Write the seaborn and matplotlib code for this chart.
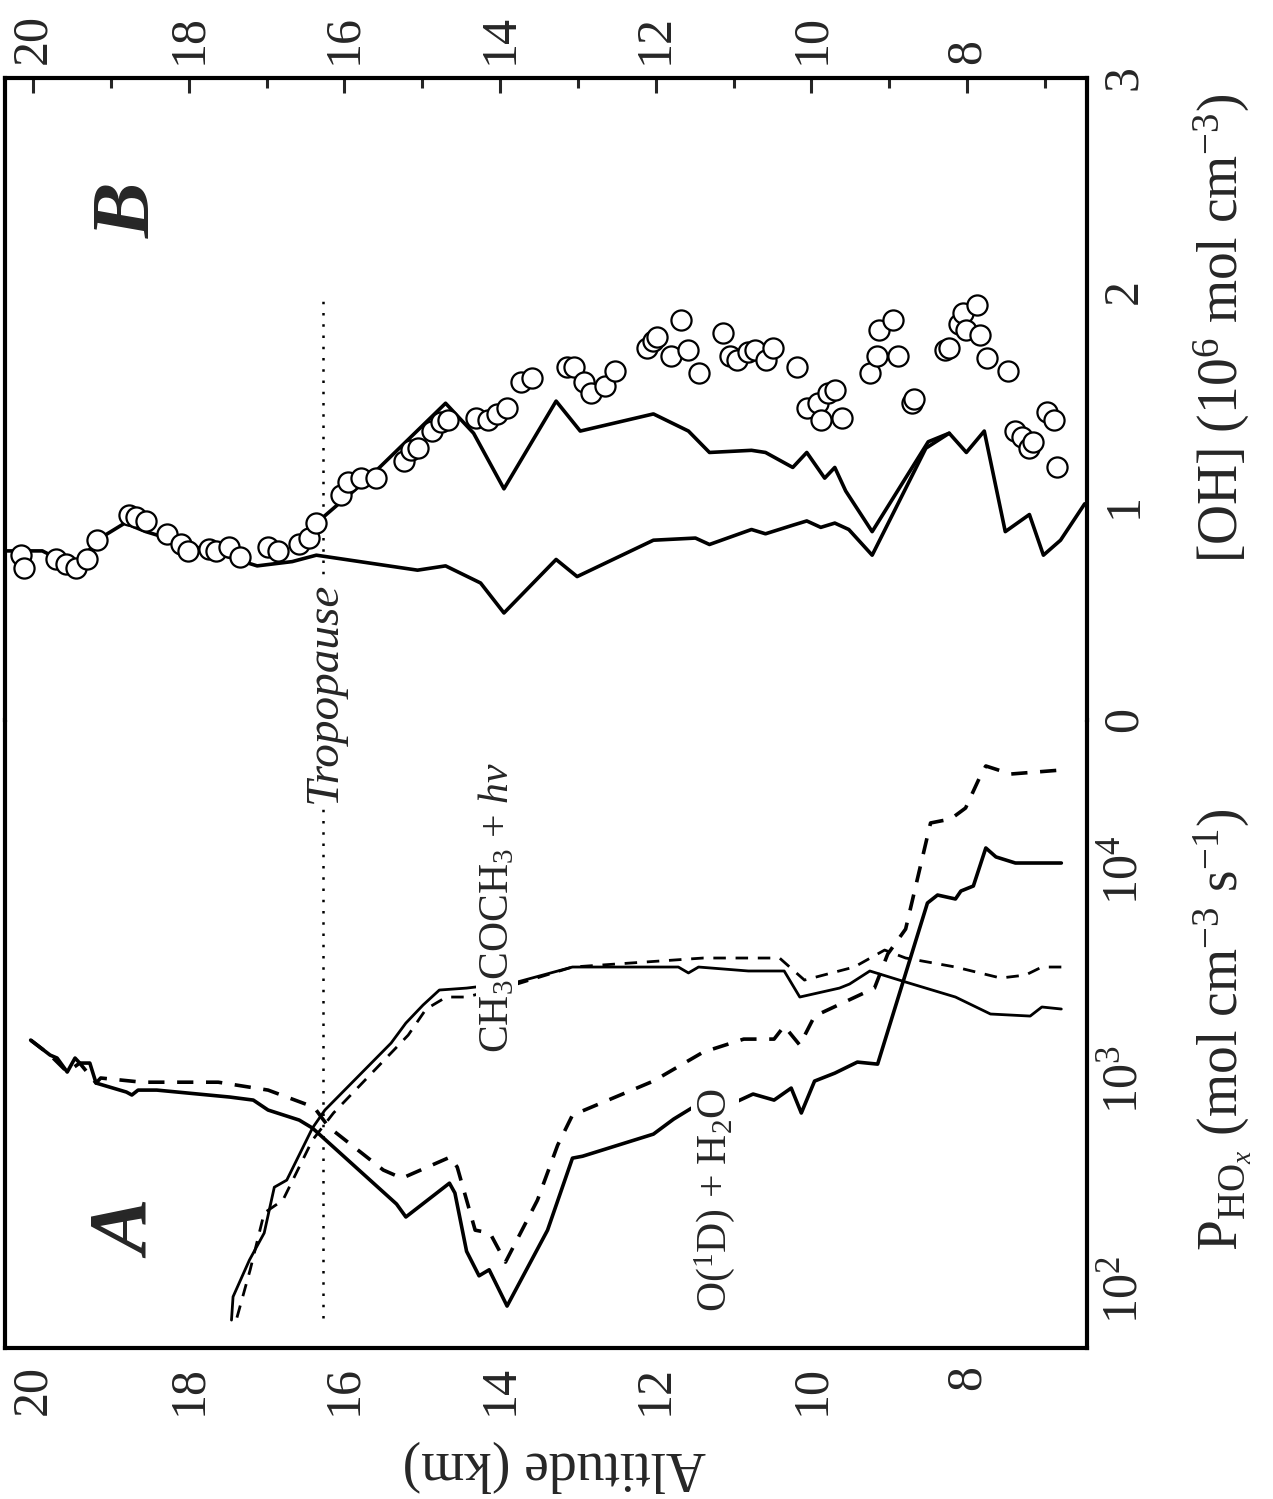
"""
HOx production (A) and OH concentration (B) vs altitude, rotated layout
"""
import matplotlib
matplotlib.use("Agg")
import matplotlib.pyplot as plt
from matplotlib.ticker import FixedLocator, NullLocator, MultipleLocator
import seaborn as sns

# --- panel A: P_HOx profiles (alt in km, rate in mol cm-3 s-1)
o1d_solid_alt = [20.03, 19.78, 19.69, 19.56, 19.46, 19.40, 19.27, 19.19, 18.80, 18.73,
                 18.65, 18.41, 17.47, 17.17, 16.98, 16.58, 16.41, 15.33, 15.21, 14.65,
                 14.58, 14.43, 14.27, 14.14, 13.91, 13.39, 13.07, 12.94, 12.03, 11.77,
                 11.52, 11.39, 10.75, 10.48, 10.26, 10.13, 9.96, 9.70, 9.41, 9.15,
                 8.51, 8.38, 8.15, 8.08, 7.92, 7.76, 7.63, 7.38, 6.79]
o1d_solid_p = [1550, 1315, 1273, 1092, 1273, 1205, 1205, 968, 877, 849,
               896, 896, 830, 803, 720, 645, 591, 257, 223, 323,
               290, 153, 117, 125, 84, 193, 425, 434, 553, 652,
               743, 667, 858, 803, 916, 697, 989, 1079, 1218, 1191,
               6966, 7602, 7279, 7943, 8393, 12735, 11543, 10798, 10798]

o1d_dash_alt = [20.03, 19.78, 19.56, 19.40, 19.19, 19.13, 18.60, 17.62, 16.98, 16.39,
                16.20, 15.50, 15.26, 14.64, 14.55, 14.32, 14.13, 13.93, 13.52, 13.26,
                13.07, 12.03, 11.39, 10.87, 10.48, 10.35, 10.15, 9.96, 9.19, 9.02,
                8.79, 8.47, 8.21, 8.02, 7.83, 7.76, 7.44, 6.79]
o1d_dash_p = [1550, 1315, 1092, 1205, 968, 1023, 977, 977, 896, 743,
              597, 373, 341, 430, 385, 193, 187, 136, 268, 490,
              681, 989, 1359, 1567, 1567, 1808, 1468, 2017, 2741, 3981,
              5236, 16749, 17498, 19730, 28054, 31285, 28640, 29927]

acet_solid_alt = [17.45, 17.43, 17.22, 17.03, 16.90, 16.74, 16.41, 16.25, 15.40, 15.21,
                  14.99, 14.78, 14.43, 13.78, 13.07, 11.71, 11.58, 11.45, 10.81, 10.35,
                  10.15, 9.64, 9.51, 9.25, 8.79, 8.15, 7.70, 7.19, 7.04, 6.79]
acet_solid_p = [72, 93, 139, 187, 309, 334, 591, 720, 1500, 1868,
                2275, 2683, 2741, 2929, 3453, 3453, 3236, 3453, 3306, 3306,
                2485, 2741, 2866, 3306, 2929, 2485, 2063, 2017, 2228, 2179]

acet_dash_alt = [17.38, 17.21, 17.03, 16.79, 16.41, 16.14, 15.18, 14.95, 14.69, 14.43,
                 13.78, 13.07, 11.39, 10.41, 10.09, 9.45, 9.06, 8.79, 8.15, 7.57,
                 7.25, 7.04, 6.79]
acet_dash_p = [74, 125, 233, 268, 518, 697, 1637, 2179, 2485, 2485,
               2866, 3453, 3811, 3811, 2993, 3453, 4159, 3811, 3453, 3061,
               3162, 3453, 3453]

# --- panel B: [OH] (1e6 mol cm-3)
model_lo_alt = [20.33, 19.88, 19.45, 19.18, 18.82, 18.55, 18.19, 17.74, 17.12, 16.67,
                16.36, 15.06, 14.70, 14.25, 13.95, 13.28, 13.01, 12.03, 11.49, 11.31,
                10.77, 10.59, 10.24, 10.06, 9.88, 9.70, 9.52, 9.22, 8.53, 8.23,
                8.01, 7.78, 7.51, 7.20, 7.02, 6.80, 6.49]
model_lo_oh = [0.79, 0.79, 0.71, 0.84, 0.92, 0.88, 0.84, 0.79, 0.72, 0.74,
               0.77, 0.70, 0.72, 0.64, 0.50, 0.75, 0.67, 0.84, 0.85, 0.82,
               0.89, 0.87, 0.91, 0.93, 0.90, 0.92, 0.89, 0.77, 1.27, 1.34,
               1.25, 1.35, 0.88, 0.96, 0.77, 0.84, 1.01]

model_hi_alt = [16.36, 15.69, 14.70, 14.34, 13.95, 13.28, 12.97, 12.03, 11.58, 11.31,
                10.77, 10.59, 10.24, 10.06, 9.83, 9.70, 9.56, 9.22, 8.50, 8.23]
model_hi_oh = [0.92, 1.13, 1.48, 1.34, 1.08, 1.49, 1.35, 1.43, 1.35, 1.25,
               1.26, 1.25, 1.18, 1.25, 1.13, 1.18, 1.07, 0.88, 1.30, 1.34]

obs_alt = [20.15, 20.12, 19.70, 19.58, 19.45, 19.31, 19.18, 18.77, 18.68, 18.55,
           18.28, 18.10, 18.01, 17.74, 17.65, 17.48, 17.34, 16.98, 16.85, 16.58,
           16.45, 16.36, 16.04, 15.95, 15.78, 15.60, 15.24, 15.15, 15.06, 14.88,
           14.76, 14.67, 14.31, 14.16, 14.04, 13.91, 13.73, 13.59, 13.14, 13.05,
           12.92, 12.83, 12.65, 12.52, 12.11, 12.03, 11.98, 11.80, 11.67, 11.58,
           11.44, 11.13, 11.04, 10.95, 10.82, 10.73, 10.59, 10.50, 10.19, 10.06,
           9.92, 9.79, 9.70, 9.88, 9.61, 9.25, 9.16, 9.13, 8.95, 8.89,
           8.71, 8.68, 8.28, 8.23, 8.10, 8.05, 8.01, 7.87, 7.83, 7.74,
           7.47, 7.38, 7.29, 7.20, 7.16, 6.98, 6.89, 6.84]
obs_oh = [0.77, 0.71, 0.75, 0.73, 0.71, 0.75, 0.84, 0.96, 0.95, 0.93,
          0.87, 0.82, 0.79, 0.80, 0.79, 0.81, 0.76, 0.81, 0.79, 0.82,
          0.85, 0.92, 1.05, 1.11, 1.13, 1.13, 1.21, 1.26, 1.27, 1.35,
          1.39, 1.40, 1.41, 1.40, 1.43, 1.46, 1.58, 1.60, 1.65, 1.65,
          1.58, 1.53, 1.56, 1.63, 1.74, 1.77, 1.79, 1.70, 1.87, 1.73,
          1.62, 1.81, 1.70, 1.68, 1.72, 1.73, 1.68, 1.74, 1.65, 1.46,
          1.48, 1.53, 1.54, 1.40, 1.41, 1.62, 1.70, 1.82, 1.87, 1.70,
          1.48, 1.50, 1.73, 1.74, 1.85, 1.90, 1.82, 1.94, 1.80, 1.69,
          1.63, 1.35, 1.32, 1.27, 1.30, 1.44, 1.40, 1.18]

tropopause_alt = 16.27
trop_p_span = [74, 52000]
trop_oh_span = [0, 1.96]

p_ticks = [1e2, 1e3, 1e4]
p_ticklabels = ['10$^2$', '10$^3$', '10$^4$']
oh_ticks = [0, 1, 2, 3]
alt_ticks = [8, 10, 12, 14, 16, 18, 20]

# + style
sns.set_style("ticks")
plt.rcParams['font.family'] = ['Liberation Serif', 'DejaVu Serif']
plt.rcParams['mathtext.fontset'] = 'custom'
plt.rcParams['mathtext.rm'] = 'Liberation Serif'
plt.rcParams['mathtext.it'] = 'Liberation Serif:italic'
plt.rcParams['mathtext.bf'] = 'Liberation Serif:bold'

fig = plt.figure(figsize=(12.73, 14.99), dpi=100)
ax_a = fig.add_axes([0.0039, 0.1007, 0.850, 0.419])
ax_b = fig.add_axes([0.0039, 0.5197, 0.850, 0.4283])
ax_a.set_yscale('log')

LW = 2.6
DASH = (0, (4.5, 3.5))
sns.lineplot(x=o1d_solid_alt, y=o1d_solid_p, ax=ax_a, sort=False, estimator=None,
             color='black', lw=LW)
sns.lineplot(x=o1d_dash_alt, y=o1d_dash_p, ax=ax_a, sort=False, estimator=None,
             color='black', lw=LW, linestyle=DASH)
sns.lineplot(x=acet_solid_alt, y=acet_solid_p, ax=ax_a, sort=False, estimator=None,
             color='black', lw=2.0)
sns.lineplot(x=acet_dash_alt, y=acet_dash_p, ax=ax_a, sort=False, estimator=None,
             color='black', lw=2.0, linestyle=DASH)
ax_a.plot([tropopause_alt] * 2, trop_p_span, color='black', lw=1.8,
          linestyle=(0, (1, 3.5)))

sns.lineplot(x=model_lo_alt, y=model_lo_oh, ax=ax_b, sort=False, estimator=None,
             color='black', lw=LW)
sns.lineplot(x=model_hi_alt, y=model_hi_oh, ax=ax_b, sort=False, estimator=None,
             color='black', lw=LW)
ax_b.plot([tropopause_alt] * 2, trop_oh_span, color='black', lw=1.8,
          linestyle=(0, (1, 3.5)))
sns.scatterplot(x=obs_alt, y=obs_oh, ax=ax_b, marker='o', s=210,
                facecolor='white', edgecolor='black', linewidth=1.6, zorder=4)

# + axes: altitude runs along the horizontal, high on the left
for ax in (ax_a, ax_b):
    ax.set_xlim(20.36, 6.46)
    ax.set_xticks(alt_ticks)
    ax.xaxis.set_minor_locator(MultipleLocator(1))
    ax.yaxis.tick_right()
    ax.tick_params(axis='y', which='both', length=0, labelsize=36, pad=10,
                   labelrotation=90)
    for lab in ax.get_yticklabels():
        lab.set_verticalalignment('center')
    for s in ax.spines.values():
        s.set_linewidth(3)
        s.set_color('black')
    ax.set_facecolor('white')

ax_a.set_ylim(53, 51800)
ax_a.yaxis.set_major_locator(FixedLocator(p_ticks))
ax_a.yaxis.set_minor_locator(NullLocator())
ax_a.set_yticklabels(p_ticklabels)
ax_a.spines['top'].set_visible(False)
ax_a.tick_params(axis='x', which='both', length=0, labelsize=36, pad=12,
                 labelrotation=90)
ax_a.set_xticklabels([str(t) for t in alt_ticks])

ax_b.set_ylim(0, 3.0)
ax_b.set_yticks(oh_ticks)
ax_b.set_yticklabels([str(t) for t in oh_ticks])
ax_b.spines['bottom'].set_visible(False)
ax_b.xaxis.tick_top()
ax_b.tick_params(axis='x', which='major', direction='in', length=11, width=2.2,
                 labelsize=36, pad=10, labelrotation=90)
ax_b.tick_params(axis='x', which='minor', direction='in', length=7, width=2.2)
ax_b.set_xticklabels([str(t) for t in alt_ticks])

for ax in (ax_a, ax_b):
    for lab in ax.get_yticklabels():
        lab.set_verticalalignment('center')

ax_a.set_xlabel('Altitude (km)', fontsize=40, rotation=180)
ax_a.xaxis.set_label_coords(0.508, -0.146)
ax_a.yaxis.set_label_position('right')
ax_a.set_ylabel('P$_{\\mathrm{HO}_x}$ (mol cm$^{-3}$ s$^{-1}$)', fontsize=40,
                rotation=90)
ax_a.yaxis.set_label_coords(1.097, 0.506)
ax_b.yaxis.set_label_position('right')
ax_b.set_ylabel('[OH] (10$^6$ mol cm$^{-3}$)', fontsize=40, rotation=90)
ax_b.yaxis.set_label_coords(1.097, 0.61)

# + annotations
ax_a.text(0.1155, 0.188, 'A', transform=ax_a.transAxes, rotation=90,
          fontsize=60, fontweight='bold', fontstyle='italic', ha='center', va='center')
ax_b.text(0.1155, 0.794, 'B', transform=ax_b.transAxes, rotation=90,
          fontsize=60, fontweight='bold', fontstyle='italic', ha='center', va='center')
ax_a.text(0.455, 0.702, 'CH$_3$COCH$_3$ + $h\\nu$', transform=ax_a.transAxes,
          rotation=90, fontsize=30, ha='center', va='center', zorder=5,
          bbox=dict(facecolor='white', edgecolor='none', pad=1))
ax_a.text(0.656, 0.236, 'O($^1$D) + H$_2$O', transform=ax_a.transAxes,
          rotation=90, fontsize=30, ha='center', va='center', zorder=5,
          bbox=dict(facecolor='white', edgecolor='none', pad=1))
fig.text(0.2553, 0.5384, 'Tropopause', rotation=90, fontsize=34,
         fontstyle='italic', ha='center', va='center', zorder=10,
         bbox=dict(facecolor='white', edgecolor='none', pad=2))

fig.savefig('out.png', dpi=100, facecolor='white')
plt.close(fig)
